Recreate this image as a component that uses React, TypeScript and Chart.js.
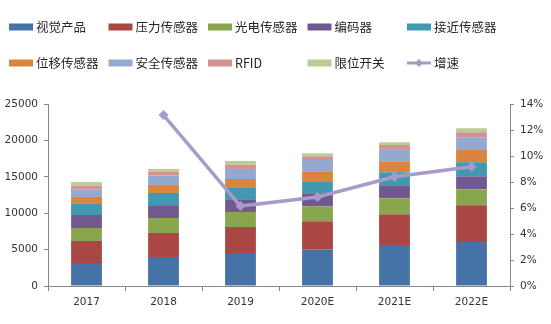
import React, { useEffect, useRef } from "react";
import { Chart, registerables } from "chart.js";

Chart.register(...registerables);

const categories = ["2017", "2018", "2019", "2020E", "2021E", "2022E"];

const seriesNames = ["视觉产品", "压力传感器", "光电传感器", "编码器", "接近传感器", "位移传感器", "安全传感器", "RFID", "限位开关"];
const seriesColors = ["#4572A7", "#AA4643", "#89A54E", "#71588F", "#4198AF", "#DB843D", "#93A9CF", "#D19392", "#B9CD96"];

const vision = [3160, 3985, 4400, 4990, 5500, 6050];
const pressure = [3020, 3295, 3700, 3900, 4350, 5040];
const photoelectric = [1790, 2060, 2070, 2060, 2200, 2200];
const encoder = [1785, 1650, 1650, 1790, 1790, 1780];
const proximity = [1515, 1790, 1650, 1650, 1780, 1930];
const displacement = [960, 1100, 1230, 1370, 1510, 1690];
const safety = [1050, 1280, 1380, 1550, 1560, 1740];
const rfid = [500, 500, 550, 510, 680, 690];
const limitSwitch = [510, 420, 550, 410, 370, 550];

const growthName = "增速";
const growthColor = "#A99BC6";
const growth: (number | null)[] = [null, 13.15, 6.15, 6.85, 8.4, 9.18];

const leftTicks = [0, 5000, 10000, 15000, 20000, 25000];
const rightTicks = [0, 2, 4, 6, 8, 10, 12, 14];

const seriesValues = [vision, pressure, photoelectric, encoder, proximity, displacement, safety, rfid, limitSwitch];

const legendPlugin = {
  id: "gridLegend",
  afterDraw(chart: any) {
    const ctx = chart.ctx;
    ctx.save();
    const colX = [9, 108.5, 208, 307.5, 407];
    const rowY = [27, 63];
    const items = seriesNames.map((n, i) => ({ name: n, color: seriesColors[i], line: false }));
    items.push({ name: growthName, color: growthColor, line: true });
    ctx.font = "12.5px 'Noto Sans CJK SC', sans-serif";
    ctx.textBaseline = "middle";
    ctx.textAlign = "left";
    items.forEach((it, i) => {
      const x = colX[i % 5];
      const y = rowY[Math.floor(i / 5)];
      if (it.line) {
        ctx.strokeStyle = it.color;
        ctx.lineWidth = 3;
        ctx.beginPath();
        ctx.moveTo(x, y);
        ctx.lineTo(x + 24, y);
        ctx.stroke();
        ctx.fillStyle = it.color;
        ctx.beginPath();
        ctx.moveTo(x + 12, y - 4);
        ctx.lineTo(x + 16, y);
        ctx.lineTo(x + 12, y + 4);
        ctx.lineTo(x + 8, y);
        ctx.closePath();
        ctx.fill();
      } else {
        ctx.fillStyle = it.color;
        ctx.fillRect(x, y - 3.5, 24, 7);
      }
      ctx.fillStyle = "#262626";
      ctx.fillText(it.name, x + 27, y + 0.5);
    });
    ctx.restore();
  },
};

export default function App() {
  const ref = useRef<HTMLCanvasElement | null>(null);
  useEffect(() => {
    document.body.style.margin = "0";
    const tickFont = { family: "'DejaVu Sans', sans-serif", size: 10.5 };
    const barDatasets = seriesNames.map((name, i) => ({
      type: "bar" as const,
      label: name,
      data: seriesValues[i],
      backgroundColor: seriesColors[i],
      borderWidth: 0,
      stack: "s",
      yAxisID: "y",
      order: 1,
      barPercentage: 0.4,
      categoryPercentage: 1,
    }));
    const chart = new Chart(ref.current as HTMLCanvasElement, {
      type: "bar",
      data: {
        labels: categories,
        datasets: [
          ...barDatasets,
          {
            type: "line" as const,
            label: growthName,
            data: growth,
            borderColor: growthColor,
            backgroundColor: growthColor,
            borderWidth: 3.5,
            pointStyle: "rectRot",
            pointRadius: 5,
            pointBorderWidth: 0,
            yAxisID: "y1",
            order: 0,
            tension: 0,
          } as any,
        ],
      },
      options: {
        animation: false,
        responsive: false,
        maintainAspectRatio: false,
        layout: { padding: { top: 104, left: 0, right: 0, bottom: 0 } },
        plugins: { legend: { display: false }, tooltip: { enabled: false } },
        scales: {
          x: {
            stacked: true,
            grid: { display: true, drawOnChartArea: false, drawTicks: true, tickLength: 5, color: "#888", offset: true },
            border: { color: "#888" },
            ticks: { color: "#333", font: tickFont, padding: 5 },
            afterFit: (s: any) => { s.height = 38; },
          },
          y: {
            stacked: true,
            position: "left",
            min: 0,
            max: 25000,
            afterBuildTicks: (s: any) => { s.ticks = leftTicks.map((v) => ({ value: v })); },
            grid: { display: true, drawOnChartArea: false, drawTicks: true, tickLength: 4, color: "#888" },
            border: { color: "#888" },
            ticks: { color: "#333", font: tickFont, padding: 6, callback: (v: any) => String(v) },
            afterFit: (s: any) => { s.width = 48; },
          },
          y1: {
            position: "right",
            min: 0,
            max: 14,
            afterBuildTicks: (s: any) => { s.ticks = rightTicks.map((v) => ({ value: v })); },
            grid: { display: true, drawOnChartArea: false, drawTicks: true, tickLength: 4, color: "#888" },
            border: { color: "#888" },
            ticks: { color: "#333", font: tickFont, padding: 6, callback: (v: any) => v + "%" },
            afterFit: (s: any) => { s.width = 41; },
          },
        },
      },
      plugins: [legendPlugin],
    });
    return () => chart.destroy();
  }, []);
  return (
    <div style={{ position: "absolute", left: 0, top: 0, width: 551, height: 324 }}>
      <canvas ref={ref} width={551} height={324} style={{ width: 551, height: 324 }} />
    </div>
  );
}
